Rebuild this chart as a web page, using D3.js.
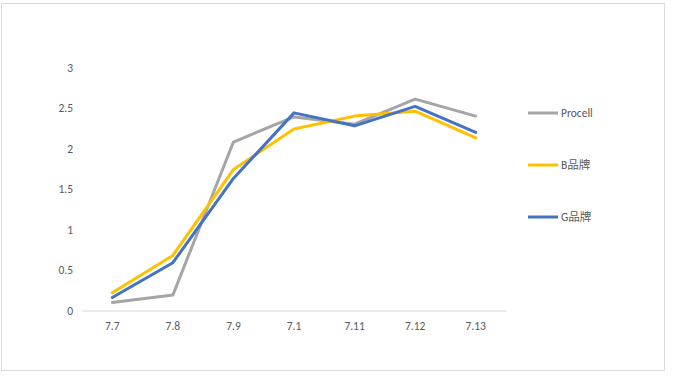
<!DOCTYPE html>
<html>
<head>
<meta charset="utf-8">
<script src="https://cdn.jsdelivr.net/npm/d3@7"></script>
<style>
html,body{margin:0;padding:0;background:#fff;}
svg{display:block;}
text{font-family:Calibri,"Liberation Sans","Noto Sans CJK SC",sans-serif;}
</style>
</head>
<body>
<script>
const categories = ["7.7","7.8","7.9","7.1","7.11","7.12","7.13"];
const seriesNames = ["Procell","B品牌","G品牌"];
const procell = [0.10, 0.19, 2.08, 2.39, 2.30, 2.61, 2.40];
const brandB  = [0.22, 0.68, 1.74, 2.24, 2.40, 2.46, 2.13];
const brandG  = [0.16, 0.59, 1.63, 2.44, 2.28, 2.52, 2.20];
const yTicks = [0, 0.5, 1, 1.5, 2, 2.5, 3];
const colors = ["#A5A5A5","#FFC000","#4472C4"];

const W = 674, H = 379;
const svg = d3.select("body").append("svg").attr("width", W).attr("height", H);

svg.append("rect").attr("x",1.5).attr("y",3.5).attr("width",663).attr("height",367)
  .attr("fill","#fff").attr("stroke","#d9d9d9").attr("stroke-width",1);

const x = d3.scaleBand().domain(categories).range([82, 506]);
const y = d3.scaleLinear().domain([0, 3]).range([310.5, 67.5]);

// y labels
svg.append("g").selectAll("text").data(yTicks).join("text")
  .attr("x", 73).attr("y", d => y(d)).attr("dy","0.35em")
  .attr("text-anchor","end").attr("font-size",11.5).attr("fill","#595959")
  .text(d => d);

// x axis
const xAxis = d3.axisBottom(x).tickSize(0).tickPadding(11);
const gx = svg.append("g").attr("transform",`translate(0,${y(0)})`).call(xAxis);
gx.select(".domain").attr("stroke","#d9d9d9").attr("stroke-width",1.2);
gx.selectAll("text").attr("font-size",11.5).attr("fill","#595959")
  .style("font-family",'Calibri,"Liberation Sans",sans-serif');

const data = [procell, brandB, brandG];
const line = d3.line().x((d,i) => x(categories[i]) + x.bandwidth()/2).y(d => y(d));

svg.append("g").selectAll("path").data(data).join("path")
  .attr("d", line).attr("fill","none")
  .attr("stroke",(d,i)=>colors[i]).attr("stroke-width",3)
  .attr("stroke-linejoin","round").attr("stroke-linecap","round");

// legend
const legY = [113, 165, 217];
const lg = svg.append("g").selectAll("g").data(seriesNames).join("g")
  .attr("transform",(d,i)=>`translate(528,${legY[i]})`);
lg.append("line").attr("x1",0).attr("x2",30).attr("y1",0).attr("y2",0)
  .attr("stroke",(d,i)=>colors[i]).attr("stroke-width",3);
lg.append("text").attr("x",33).attr("y",0).attr("dy","0.35em")
  .attr("font-size",11.5).attr("fill","#595959").text(d=>d);
</script>
</body>
</html>
